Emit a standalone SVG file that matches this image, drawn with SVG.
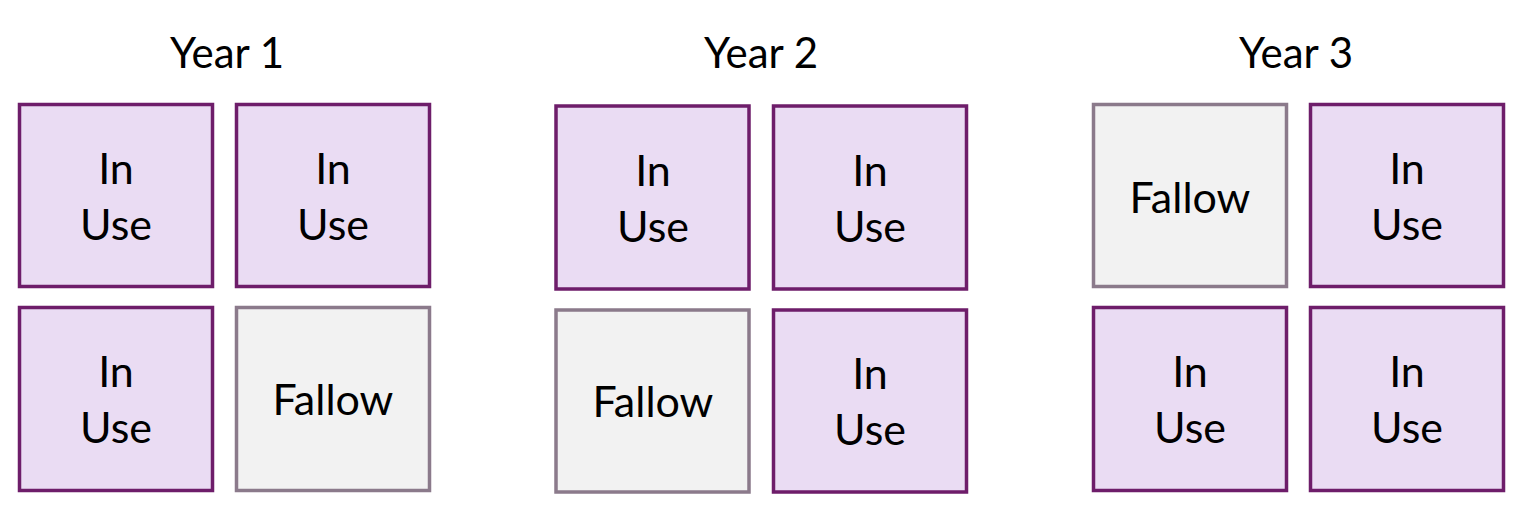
<svg xmlns="http://www.w3.org/2000/svg" width="1518" height="510" viewBox="0 0 1518 510">
<style>
text{font-family:Lato,"Open Sans","Liberation Sans",sans-serif;fill:#000;text-anchor:middle}
.t{font-size:42px}
.l{font-size:43px}
.use rect{fill:#EADCF3;stroke:#6E1D6A;stroke-width:3.5}
.fal rect{fill:#F2F2F2;stroke:#8B7A8B;stroke-width:3.5}
</style>
<rect width="1518" height="510" fill="#fff"/>
<g id="titles">
<text class="t" x="227" y="68">Year 1</text>
<text class="t" x="761" y="68">Year 2</text>
<text class="t" x="1296" y="68">Year 3</text>
</g>
<g id="y1a" class="use"><rect x="19.5" y="104.5" width="193" height="182"/><text class="l" x="116" y="184">In</text><text class="l" x="116" y="240">Use</text></g>
<g id="y1b" class="use"><rect x="236.5" y="104.5" width="193" height="182"/><text class="l" x="333" y="184">In</text><text class="l" x="333" y="240">Use</text></g>
<g id="y1c" class="use"><rect x="19.5" y="307.5" width="193" height="183"/><text class="l" x="116" y="387">In</text><text class="l" x="116" y="443">Use</text></g>
<g id="y1d" class="fal"><rect x="236.5" y="307.5" width="193" height="183"/><text class="l" x="333" y="415">Fallow</text></g>
<g id="y2a" class="use"><rect x="556" y="106" width="193" height="183"/><text class="l" x="653" y="186">In</text><text class="l" x="653" y="242">Use</text></g>
<g id="y2b" class="use"><rect x="773.5" y="106" width="193" height="183"/><text class="l" x="870" y="186">In</text><text class="l" x="870" y="242">Use</text></g>
<g id="y2c" class="fal"><rect x="556" y="310" width="193" height="182"/><text class="l" x="653" y="417">Fallow</text></g>
<g id="y2d" class="use"><rect x="773.5" y="310" width="193" height="182"/><text class="l" x="870" y="389">In</text><text class="l" x="870" y="445">Use</text></g>
<g id="y3a" class="fal"><rect x="1093.5" y="104.5" width="193" height="182"/><text class="l" x="1190" y="213">Fallow</text></g>
<g id="y3b" class="use"><rect x="1310.5" y="104.5" width="193" height="182"/><text class="l" x="1407" y="184">In</text><text class="l" x="1407" y="240">Use</text></g>
<g id="y3c" class="use"><rect x="1093.5" y="307.5" width="193" height="183"/><text class="l" x="1190" y="387">In</text><text class="l" x="1190" y="443">Use</text></g>
<g id="y3d" class="use"><rect x="1310.5" y="307.5" width="193" height="183"/><text class="l" x="1407" y="387">In</text><text class="l" x="1407" y="443">Use</text></g>
<g id="connectors"/>
</svg>
